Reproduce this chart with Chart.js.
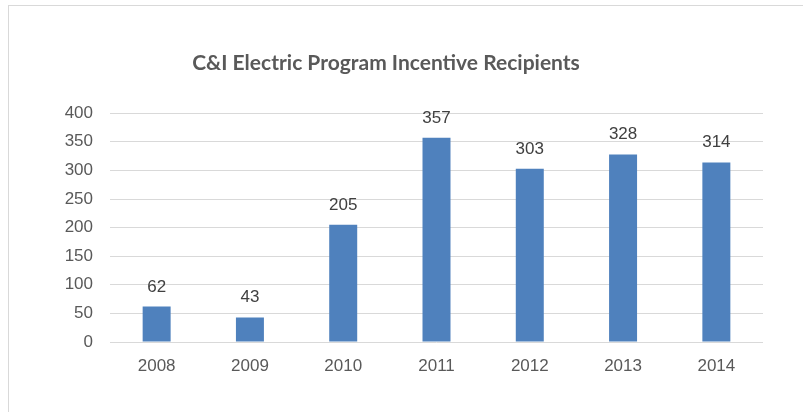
<!DOCTYPE html>
<html>
<head>
<meta charset="utf-8">
<script src="https://cdn.jsdelivr.net/npm/chart.js@4"></script>
<style>
  html, body { margin: 0; padding: 0; background: #fff; }
  #frame {
    position: absolute; left: 8px; top: 5px;
    width: 795px; height: 407px;
    border-left: 1px solid #d9d9d9; border-top: 1px solid #d9d9d9;
  }
  #chartBox { position: relative; width: 794px; height: 406px; }
</style>
</head>
<body>
<div id="frame">
  <div id="chartBox"><canvas id="recipientsChart"></canvas></div>
</div>
<script>
// Chart data
const years = ['2008', '2009', '2010', '2011', '2012', '2013', '2014'];
const recipients = [62, 43, 205, 357, 303, 328, 314];
const yTicks = [0, 50, 100, 150, 200, 250, 300, 350, 400];

const tickColor = '#595959';
const barColor = '#4f81bd';

// Draws the value above each bar
const barValueLabels = {
    id: 'barValueLabels',
    afterDatasetsDraw(chart) {
        const ctx = chart.ctx;
        const meta = chart.getDatasetMeta(0);
        ctx.save();
        ctx.font = '17px "Liberation Sans", Arial, sans-serif';
        ctx.fillStyle = '#404040';
        ctx.textAlign = 'center';
        ctx.textBaseline = 'alphabetic';
        meta.data.forEach((bar, i) => {
            ctx.fillText(String(recipients[i]), bar.x, bar.y - 15);
        });
        ctx.restore();
    }
};

new Chart(document.getElementById('recipientsChart'), {
    type: 'bar',
    data: {
        labels: years,
        datasets: [{
            data: recipients,
            backgroundColor: barColor,
            borderWidth: 0,
            categoryPercentage: 1,
            barPercentage: 0.3
        }]
    },
    options: {
        responsive: true,
        maintainAspectRatio: false,
        animation: false,
        layout: { padding: { left: 0, right: 40, top: 0, bottom: 0 } },
        plugins: {
            legend: { display: false },
            tooltip: { enabled: false },
            title: {
                display: true,
                // zero-width non-joiner keeps Lato from forming the "ti" ligature
                text: 'C&I Electric Program Incen\u200Ctive Recipients',
                color: tickColor,
                font: { family: 'Lato, "Open Sans", sans-serif', size: 21, weight: 'bold', lineHeight: 1.2 },
                padding: { top: 45, bottom: 37 }
            }
        },
        scales: {
            x: {
                grid: { display: false },
                border: { display: false },
                ticks: {
                    color: tickColor,
                    padding: 6,
                    maxRotation: 0,
                    font: { family: '"Liberation Sans", Arial, sans-serif', size: 17 }
                },
                afterFit(scale) { scale.height = 70; }
            },
            y: {
                min: 0,
                max: 400,
                afterBuildTicks(scale) { scale.ticks = yTicks.map(v => ({ value: v })); },
                grid: { color: '#d9d9d9', drawTicks: false },
                border: { display: false },
                ticks: {
                    color: tickColor,
                    padding: 17,
                    font: { family: '"Liberation Sans", Arial, sans-serif', size: 17 }
                },
                afterFit(scale) { scale.width = 101; }
            }
        }
    },
    plugins: [barValueLabels]
});
</script>
</body>
</html>
